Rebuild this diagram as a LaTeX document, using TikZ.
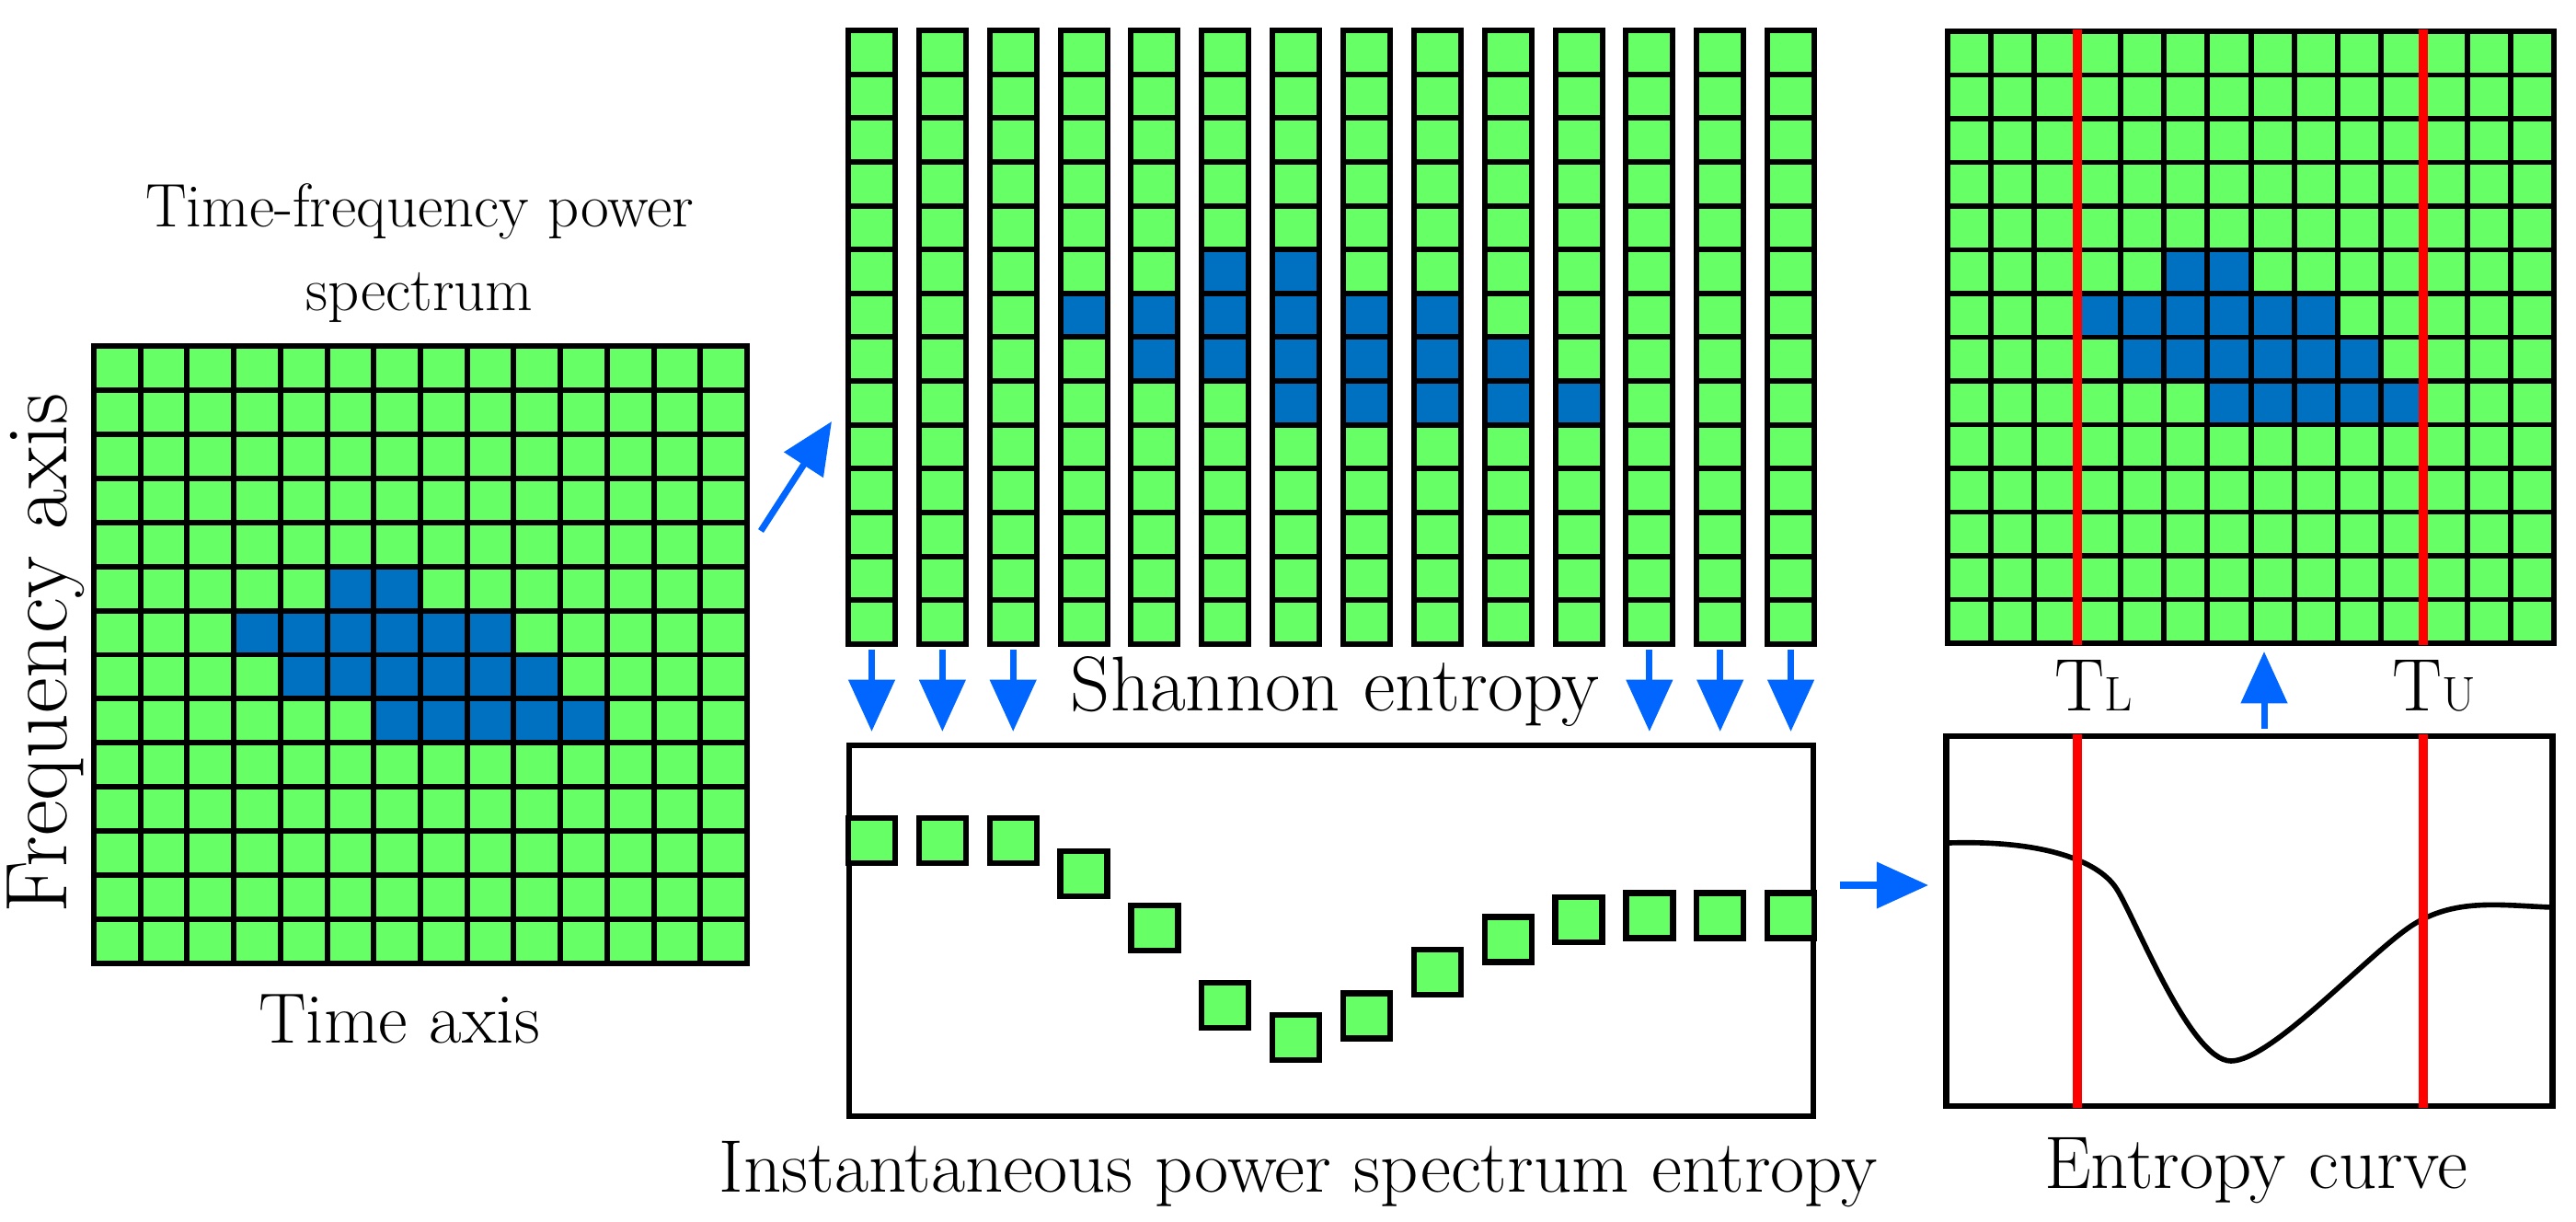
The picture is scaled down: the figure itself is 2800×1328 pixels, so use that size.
\documentclass[tikz,border=0pt]{standalone}
\usetikzlibrary{arrows.meta}
\definecolor{cg}{HTML}{66FF66}
\definecolor{cb}{HTML}{0070C0}
\definecolor{ca}{HTML}{0066FF}
\definecolor{cr}{HTML}{FF0000}
\begin{document}
\begin{tikzpicture}[x=0.01cm,y=-0.01cm,
  grid/.style={line width=1.7pt,draw=black},
  lbl/.style={font=\fontsize{23}{27}\selectfont,inner sep=0pt},
  barrow/.style={draw=ca,line width=2pt,-{Triangle[length=16pt,width=14pt]}},
  redl/.style={draw=cr,line width=2.6pt},
  ent/.style={draw=black,line width=1.8pt,fill=cg,minimum width=51*0.01cm,minimum height=49*0.01cm,inner sep=0pt}]
\useasboundingbox (0,0) rectangle (2800,1328);
% ---------- left grid
\fill[cg] (102,376) rectangle (812,1047);
\foreach \r/\c in {5/5,5/6,6/3,6/4,6/5,6/6,6/7,6/8,7/4,7/5,7/6,7/7,7/8,7/9,8/6,8/7,8/8,8/9,8/10}
  \fill[cb] ({102+\c*50.71},{376+\r*47.93}) rectangle ++(50.71,47.93);
\foreach \i in {1,...,13} {
  \draw[grid] ({102+\i*50.71},376) -- ({102+\i*50.71},1047);
  \draw[grid] (102,{376+\i*47.93}) -- (812,{376+\i*47.93});}
\draw[grid] (102,376) rectangle (812,1047);
\node (lgrid) at (457,711.5) [minimum width=710*0.01cm,minimum height=671*0.01cm] {};
\node[lbl,align=center,font=\fontsize{19}{26}\selectfont] (title) at (456,275) {Time-frequency power\\spectrum};
\node[lbl,rotate=90,font=\fontsize{27}{30}\selectfont] (faxis) at (50,710) {Frequency axis};
\node[lbl,font=\fontsize{22}{26}\selectfont] (taxis) at (434,1107) {Time axis};
% ---------- middle columns
\foreach \c in {0,...,13} {
  \fill[cg] ({922+\c*76.85},33) rectangle ++(51,667);}
\foreach \r/\c in {5/5,5/6,6/3,6/4,6/5,6/6,6/7,6/8,7/4,7/5,7/6,7/7,7/8,7/9,8/6,8/7,8/8,8/9,8/10}
  \fill[cb] ({922+\c*76.85},{33+\r*47.64}) rectangle ++(51,47.64);
\foreach \c in {0,...,13} {
  \foreach \i in {1,...,13}
    \draw[grid] ({922+\c*76.85},{33+\i*47.64}) -- ++(51,0);
  \draw[grid] ({922+\c*76.85},33) rectangle ++(51,667);
  \coordinate (col\c) at ({947.5+\c*76.85},706);}
\node[lbl,font=\fontsize{24}{28}\selectfont] (shannon) at (1451,752) {Shannon entropy};
\foreach \c in {0,1,2,11,12,13} {
  \coordinate (dn\c) at ({947.5+\c*76.85},795);
  \draw[barrow] (col\c) -- (dn\c);}
% ---------- entropy box
\node[draw=black,line width=1.8pt,minimum width=1048*0.01cm,minimum height=403*0.01cm,inner sep=0pt] (ebox) at (1447,1011.5) {};
\foreach \c/\y in {0/913.5,1/913.5,2/913.5,3/949.5,4/1008.5,5/1092.5,6/1127.5,7/1104,8/1056.5,9/1021,10/999.5,11/995,12/995,13/995}
  \node[ent] (e\c) at ({947.5+\c*76.85},\y) {};
\node[lbl] (ipse) at (1411,1276) {Instantaneous power spectrum entropy};
\coordinate (ra) at (2000,962);
\coordinate (rb) at (2096,962);
\draw[barrow] (ra) -- (rb);
% ---------- arrow from left grid to columns
\coordinate (da) at (827,577);
\coordinate (db) at (904,458);
\draw[barrow] (da) -- (db);
% ---------- right grid
\fill[cg] (2117,34) rectangle (2776,699);
\foreach \r/\c in {5/5,5/6,6/3,6/4,6/5,6/6,6/7,6/8,7/4,7/5,7/6,7/7,7/8,7/9,8/6,8/7,8/8,8/9,8/10}
  \fill[cb] ({2117+\c*47.07},{34+\r*47.5}) rectangle ++(47.07,47.5);
\foreach \i in {1,...,13} {
  \draw[grid] ({2117+\i*47.07},34) -- ({2117+\i*47.07},699);
  \draw[grid] (2117,{34+\i*47.5}) -- (2776,{34+\i*47.5});}
\draw[grid] (2117,34) rectangle (2776,699);
% ---------- entropy curve box
\node[draw=black,line width=1.8pt,minimum width=659*0.01cm,minimum height=402*0.01cm,inner sep=0pt] (cbox) at (2445,1001) {};
\draw[line width=1.6pt] (2119,916) .. controls (2220,913) and (2280,935) .. (2300,965)
  .. controls (2320,995) and (2380,1153) .. (2425,1153)
  .. controls (2470,1153) and (2580,1030) .. (2626,1003)
  .. controls (2672,976) and (2720,984) .. (2773,986);
\coordinate (up0) at (2461,792);
\coordinate (up1) at (2461,708);
\draw[barrow] (up0) -- (up1);
\foreach \x/\n in {2258/L,2634/U} {
  \coordinate (g\n) at (\x,32);
  \coordinate (h\n) at (\x,701);
  \coordinate (k\n) at (\x,798);
  \coordinate (m\n) at (\x,1204);
  \draw[redl] (g\n) -- (h\n);
  \draw[redl] (k\n) -- (m\n);}
\node[lbl] (tl) at (2276,745) {T{\fontsize{15}{17}\selectfont L}};
\node[lbl] (tu) at (2646,745) {T{\fontsize{15}{17}\selectfont U}};
\node[lbl] (ecurve) at (2452,1272) {Entropy curve};
\end{tikzpicture}
\end{document}
